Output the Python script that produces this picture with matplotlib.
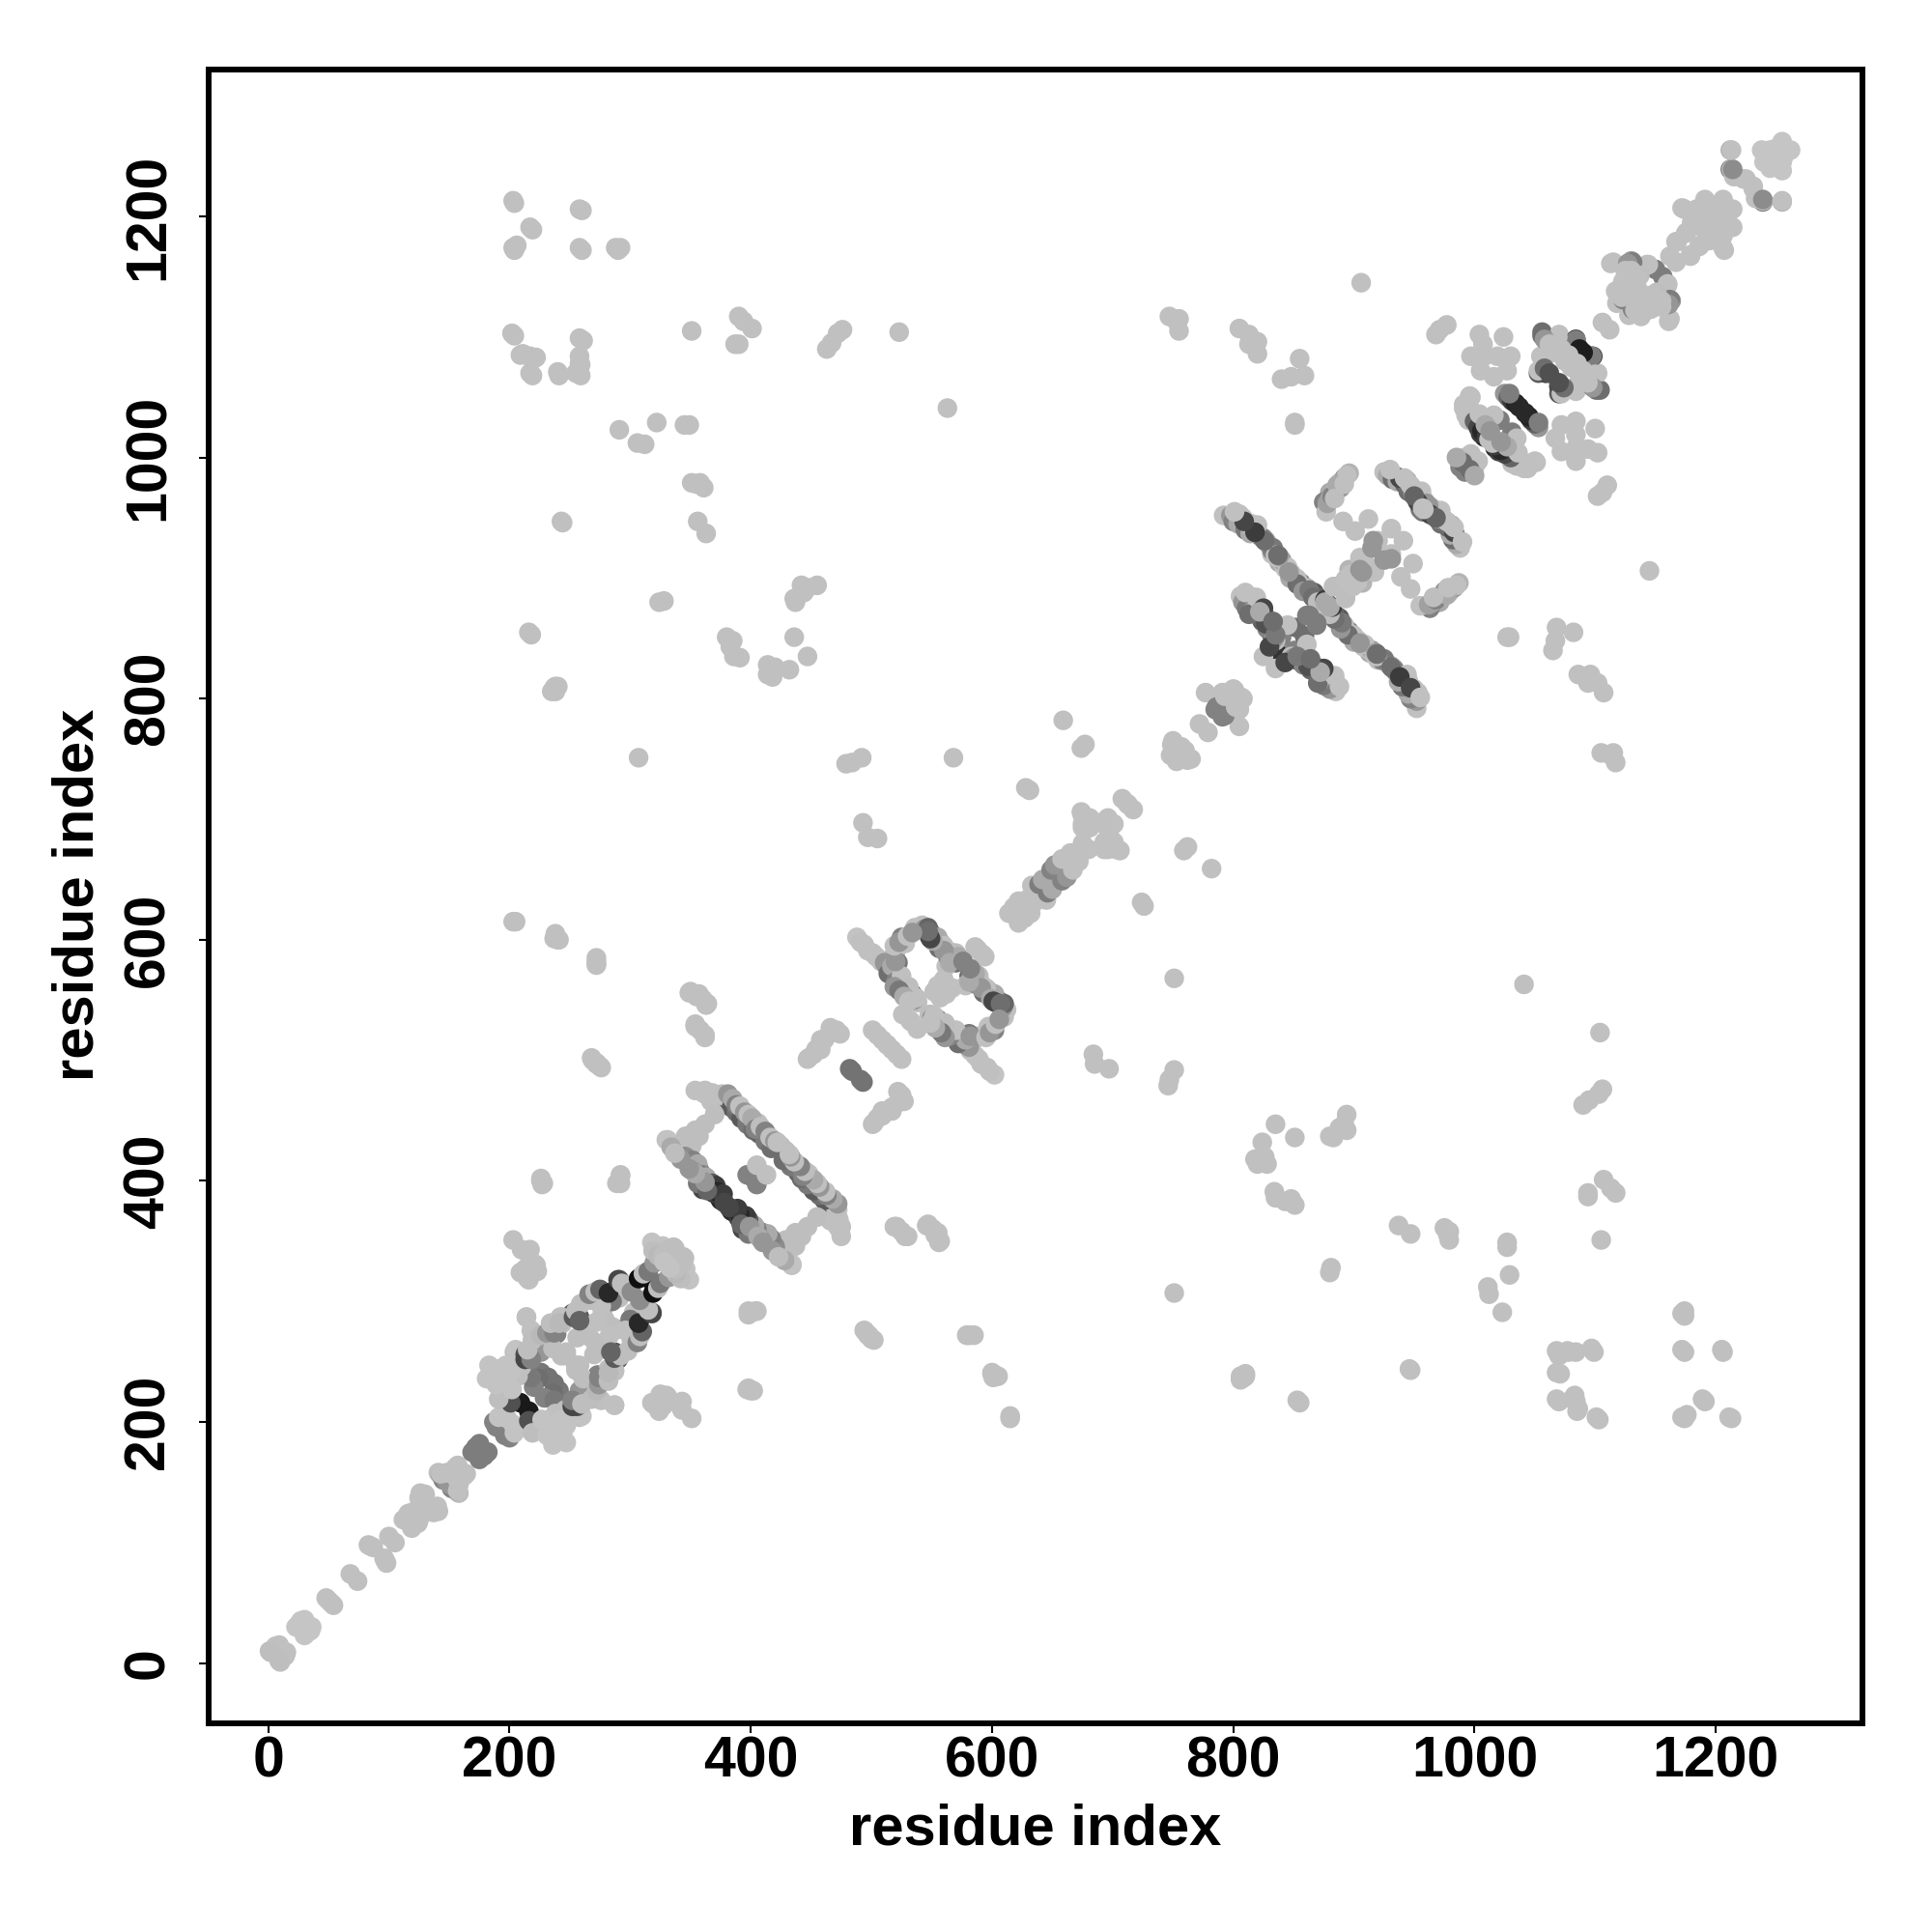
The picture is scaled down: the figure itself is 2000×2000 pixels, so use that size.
import matplotlib
matplotlib.use("Agg")
import matplotlib.pyplot as plt

# contacts as (residue i, residue j, grey level); each is drawn at (i, j) and (j, i)
diag_low = [(1,10,190),(9,15,192),(6,14,192),(2,9,190),(23,30,197),(30,36,197),(25,32,197),(27,35,197),
    (48,54,192),(50,52,192),(68,74,192),(85,97,192),(83,98,192),(87,96,192),(100,105,192),
    (112,119,192),(119,125,192),(125,137,192),(127,133,192),(130,140,192),(126,141,192),(116,124,192),
    (141,158,190),(143,156,150),(145,152,130),(148,151,150),(155,162,192),(156,160,192),(152,157,192),
    (143,157,192),(157,164,192),(148,158,192),
    (175,182,125),(169,175,125),(172,179,125),(175,181,125)]

dense_a = [(189,196,130),(187,200,130),(191,204,195),(198,203,195),(209,216,25),(201,216,80),(191,219,190),
    (202,227,195),(181,236,195),(189,244,195),(197,247,195),(205,260,195),(202,243,195),(189,231,195),
    (183,247,195),(195,236,195),(214,287,192),(218,276,192),(213,256,80),(213,252,70),(218,252,130),
    (215,260,190),(219,268,190),(226,272,185),(231,274,150),(237,274,130),(234,282,190),(242,287,192),
    (241,282,185),(253,287,90),(255,292,190),(259,298,190),(258,284,100),(266,306,130),(271,308,190),
    (275,310,100),(282,307,40),(290,318,70),(293,315,190),(301,308,140),(307,319,15),(313,320,15),
    (311,323,190),(315,325,120),(320,332,150),(318,349,195),(327,346,195),(319,342,190),(323,338,185),
    (327,338,190),(337,344,190),(331,343,190),(336,339,190),(336,345,190),(328,333,195)]

dense_b = [(291,318,100),(287,309,20),(263,274,190),(266,271,190),(277,290,190),(279,285,190),(274,307,190),
    (268,301,190),(258,287,90),(252,290,90),(239,273,130),(244,282,190),(243,287,190),(234,266,120),
    (226,258,150),(216,250,70),(212,258,90),(219,274,190),(214,287,190),(226,241,120),(232,237,115),
    (224,236,110),(220,229,130),(218,237,120),(247,258,190),(247,255,190),(236,261,190),(243,255,190),
    (196,218,190),(202,226,192),(204,258,190),(207,238,192),(210,246,192),(256,270,190),(272,283,192),
    (291,303,190),(300,312,192),(285,300,120),(276,296,192)]

blob_side = [(203,351,192),(210,343,192),(217,343,192),(221,331,192),(209,324,192),(215,319,192),(213,327,192),
    (216,318,192),(223,325,192),(222,330,192),(215,340,192)]

ring_a = [(354,475,192),(362,475,192),(368,473,192),(376,472,192),(378,471,190),(380,468,110),(383,465,80),
    (386,463,70),(389,460,90),(392,456,120),(396,452,60),(400,449,120),(405,447,195),(410,441,100),
    (414,437,110),(418,431,105),(422,428,100),(389,457,60),(395,452,110),(383,464,110),(379,470,195),
    (406,448,195),(415,437,190),(425,429,190),(359,474,192),(362,472,192),(367,466,192)]

ring_a_extra = [(384,461,90),(388,457,110),(392,452,90),(397,447,120),(402,442,110),(407,439,100),(412,433,120),(417,427,110),
    (381,472,150),(385,468,170),(388,463,130),(391,462,192),(395,457,150),(398,455,192),(401,452,170),(404,443,130),
    (408,445,190),(412,441,130),(416,436,192),(420,433,150),(422,432,192)]

ring_b = [(330,434,192),(338,423,150),(350,415,130),(357,410,140),(365,397,50),(374,386,20),(375,384,40),
    (367,394,30),(359,405,130),(351,413,110),(340,424,190),(331,434,195),(343,431,190),(340,426,190),
    (346,437,190),(354,442,190),(362,447,190),(370,455,190),(357,437,190),(351,429,190),(345,420,120),
    (361,402,90),(369,390,60),(397,405,130),(400,404,130),(405,413,192)]

ring_b_extra = [(360,393,70),(356,398,120),(334,428,170),(341,420,150),(346,420,140),(352,417,130),(356,414,170),(352,408,150),
    (360,405,130),(363,403,170),(368,398,90),(371,396,60),(372,391,40),(377,389,60),(378,382,70),(364,392,100),
    (362,399,150),(354,406,170),(349,410,150),(342,418,150),(337,423,190)]

loop_mid = [(357,555,192),(350,557,192),(364,547,192),(354,529,192),(362,519,192),(448,502,192),(458,517,192),
    (466,527,192),(474,522,192),(454,509,192),(501,525,192),(505,521,192),(509,517,192),(513,513,192),
    (482,493,115),(484,491,115),(447,501,192),(458,509,192),(461,517,192),(471,525,192),(452,505,192),(465,522,192),
    (362,520,192),(354,528,192),(546,363,192)]

loop_b = [(488,602,195),(494,596,192),(501,589,192),(508,582,192),(513,578,120),(517,572,90),(521,569,100),
    (524,565,150),(527,563,110),(530,558,192),(534,555,110),(538,548,192),(530,554,120),(525,562,100),
    (522,573,190),(542,612,192),(549,606,75),(553,600,100),(558,597,190),(565,590,190),(570,581,110),
    (554,598,60),(545,608,190),(570,589,190),(525,602,130),(520,589,190),(528,597,192),(536,610,192),
    (522,581,120),(517,585,190),(552,557,192),(560,567,192),(555,562,192),(586,594,192),(588,592,192),
    (532,533,192),(526,538,192),(528,562,130),(533,551,190),(538,549,190),(562,578,192)]

loop_b_extra = [(491,598,192),(497,591,192),(504,586,192),(511,581,150),(514,572,110),(517,578,170),(520,565,130),(525,570,192),
    (528,558,120),(531,561,190),(535,550,150),(537,552,192),(519,561,150),(523,558,120),(527,553,170),(531,549,192),
    (544,609,150),(547,610,100),(551,603,60),(555,602,170),(556,593,110),(560,595,192),(563,587,130),(568,585,192),
    (572,586,170),(560,591,150),(548,603,80),(551,599,170),(549,601,70),(565,581,170),(576,582,130),(547,607,110),
    (520,582,150),(519,595,192),(523,598,150),(530,603,192),(534,606,150)]

diag_mid = [(614,622,192),(618,627,192),(622,632,192),(630,634,192),(633,645,192),(639,646,125),(642,650,170),
    (649,658,130),(652,662,150),(658,667,192),(665,672,192),(675,680,192),(675,693,192),(674,706,192),(681,693,192),
    (696,701,192),(675,696,192),(681,701,192),(688,697,192),(675,703,192),(708,717,192),(712,713,192),
    (749,762,192),(753,760,192),(757,760,192),(748,753,192),(750,765,192),(772,779,192),(777,805,192),
    (791,805,192),(800,808,192),(801,807,192),(785,791,130),(786,793,130),(793,802,192)]

cross_c = [(792,952,192),(798,952,150),(803,950,110),(806,946,120),(808,944,140),(812,942,192),(816,940,110),
    (819,937,120),(823,934,170),(829,928,192),(832,920,192),(838,913,170),(843,908,192),(848,904,192),(852,900,192),
    (856,896,130),(861,892,190),(867,888,90),(870,884,100),(873,879,80),(860,891,192),(853,899,192),(841,912,192),
    (832,923,130),(821,936,110),(813,944,100),(805,953,192)]

cross_c_extra = [(800,947,130),(804,945,170),(810,940,120),(814,937,170),(818,941,192),(825,933,120),(827,931,170),(833,925,120),
    (835,919,192),(840,915,150),(845,909,192),(847,900,170),(853,895,110),(858,889,150),(863,890,120),(866,884,110),
    (870,880,190),(876,882,60),(878,878,90),(875,874,192),(880,876,170),(836,917,192),(808,950,192),(811,946,192),
    (820,944,192),(815,945,192),(846,905,150),(838,918,160),(826,931,110),(818,938,60),(809,947,70),(801,955,192),(837,919,110)]

cross_d = [(806,885,192),(812,884,130),(816,878,170),(819,872,110),(823,868,100),(827,864,192),(832,858,120),
    (836,852,170),(835,841,50),(832,853,70),(829,859,110),(821,869,60),(813,877,110),(816,884,192),(807,884,192),
    (840,851,130),(852,859,110),(845,861,192),(825,835,192),(863,869,125),(861,869,125),(835,848,192)]

cross_d_extra = [(808,880,150),(811,875,120),(815,872,150),(820,878,192),(824,864,100),(828,858,130),(833,862,192),(838,860,192),
    (826,869,110),(827,862,80),(834,850,150),(830,843,70),(835,853,120),(813,870,110),(823,875,150),(819,884,192),
    (810,888,192),(825,875,70),(822,872,170),(833,864,110)]

strip_e = [(896,987,180),(888,979,192),(880,971,170),(875,963,130),(877,955,192),(891,947,192),(901,939,192),
    (912,949,192),(920,931,192),(931,941,192),(883,893,192),(885,893,190),(896,907,180),(893,899,192),
    (897,903,192),(905,917,192),(908,916,192),(905,907,150),(915,925,150),(916,931,150),(884,970,150),(892,983,150),
    (885,973,192),(880,965,192),(878,962,160),(882,968,130),(889,975,150),(894,985,192),(886,977,170),(884,966,190),(892,978,192)]

strip_f = [(925,988,192),(931,986,185),(936,984,130),(940,982,110),(944,978,192),(949,974,70),(952,972,110),
    (952,968,70),(945,976,100),(936,984,192),(955,957,120),(958,965,192),(948,970,150),
    (928,985,170),(932,982,110),(936,980,170),(942,978,100),(945,972,110),(949,970,140),(938,983,70),(944,981,170),
    (952,965,110),(956,960,192),(947,977,192),(956,972,192),(960,962,150),(953,963,70),(930,990,192),(942,983,192),
    (950,968,100),(958,957,192)]

domain_g = [(1004,1102,192),(1024,1100,192),(1007,1094,192),(997,1084,192),(1008,1084,192),(1019,1084,192),
    (1030,1084,192),(1005,1072,192),(1016,1067,192),(1027,1072,192),(996,1051,192),(991,1044,192),(993,1035,192),
    (1001,1029,80),(1008,1017,40),(1005,1020,60),(1005,1024,100),(1011,1019,192),(1003,1029,192),(995,1031,192),
    (991,1041,192),(997,1050,192),(987,999,130),(992,1000,192),(988,992,130),(997,1003,192),(990,996,110),(985,1000,170),
    (1025,1053,150),(1028,1050,100),(1031,1047,60),(1034,1045,35),(1037,1042,40),(1029,1053,125),(1021,1031,125),(1016,1035,192),
    (1056,1104,110),(1070,1102,192),(1055,1084,192),(1084,1098,60),(1084,1097,170),(1097,1084,125),(1090,1087,30),
    (1053,1070,90),(1059,1070,120),(1070,1059,70),(1072,1053,192),(1072,1085,192),(1080,1075,192),(1087,1064,192),
    (1100,1069,192),(1101,1056,110),
    (995,1045,192),(1000,1030,100),(1003,1025,70),(1006,1022,40),(1010,1017,60),(1012,1015,192),(1004,1036,192),
    (1009,1027,170),(1013,1022,150),(1058,1098,150),(1062,1094,192),(1066,1092,192),(1058,1074,110),(1062,1070,80),
    (1072,1090,192),(1078,1085,192)]

tail_h = [(1106,1112,192),(1113,1161,192),(1119,1130,130),(1128,1118,192),(1150,1156,125),(1130,1163,150),(1143,1160,192),
    (1144,1160,192),(1131,1162,125),(1115,1162,192),(1131,1142,192),(1120,1130,192),(1123,1131,130),(1131,1144,192),
    (1122,1142,130),(1127,1161,150),(1137,1151,190),(1125,1155,192),(1162,1167,192),(1168,1179,192),(1167,1179,192),
    (1175,1186,192),(1176,1187,192),(1172,1207,192),(1191,1214,192),(1206,1214,192),(1191,1212,192),(1174,1206,192),
    (1184,1206,192),(1198,1206,192),(1198,1203,192),(1187,1192,192),(1180,1195,192),(1190,1197,192),(1212,1239,130),
    (1213,1239,192),(1215,1233,192),(1223,1231,192),(1225,1231,192),(1214,1239,140),(1212,1255,180),(1213,1255,192),
    (1238,1255,197),(1255,1262,197),(1240,1245,197),(1247,1251,197),(1245,1255,197),(1249,1256,197),(1241,1250,197),
    (1122,1133,192),(1127,1145,192),(1125,1150,192),(1135,1148,192),(1126,1136,192),(1117,1138,192),(1130,1155,192),
    (1123,1146,192),(1135,1140,192),(1120,1135,192)]

far_i = [203,217,258,203,206,258,288,292,202,258,209,217,222,217,240,258,258,255,258,351,390,394,401,387,390,
    463,467,472,476,523,563,291,306,312,322,345,349,351,355,361,358,356,363,243,216,436,447,432,414,414,416,420,418,
    380,385,386,391,383,324,328,436,442,447,455,444,437,237,240,235,307,479,484,492,568,493,497,505,628,631,659,674,677,
    203,238,241,237,272,272,349,355,360,363,354,362,358,269,275,272,226,228,291,292,289,398,405,400,397,402,
    494,497,502,580,585,600,605,615,806,810,853,946,1068,1077,1097,1068,1068,1081,1086,1101,1172,1172,1205,1172,1189,1211,
    805,813,820,813,820,855,840,848,859,851,851,906,971,977,968,747,755,1105,1113]
far_j = [1213,1191,1206,1174,1176,1174,1174,1174,1103,1099,1085,1084,1083,1070,1071,1084,1070,1070,1078,1105,1117,1113,1107,1094,1094,
    1090,1095,1103,1106,1104,1041,1023,1012,1011,1029,1027,1027,979,978,975,979,947,937,947,855,851,835,824,828,820,824,826,818,
    851,848,835,834,843,880,881,883,894,892,894,888,880,809,810,806,751,746,747,751,751,697,685,684,726,724,782,759,762,
    615,603,600,601,582,579,556,553,551,546,530,521,525,500,495,498,400,398,400,404,398,292,292,291,227,226,
    276,272,268,272,272,240,238,205,238,238,218,244,259,259,261,241,219,219,211,204,290,260,260,204,219,204,
    1107,1102,1096,1094,1086,1082,1065,1067,1068,1029,1027,1145,1106,1110,1102,1117,1115,755,753]
FAR_GREY = 192

regions = [diag_low, dense_b, dense_a, blob_side, ring_a, ring_a_extra, ring_b, ring_b_extra, loop_mid, loop_b,
           loop_b_extra, diag_mid, cross_c, cross_c_extra, cross_d, cross_d_extra, strip_e, strip_f, domain_g, tail_h]

tick_values = [0, 200, 400, 600, 800, 1000, 1200]

xs, ys, cs = [], [], []
for region in regions:
    for i, j, g in region:
        v = g / 255
        xs += [i, j]; ys += [j, i]; cs += [(v, v, v), (v, v, v)]
for i, j in zip(far_i, far_j):
    v = FAR_GREY / 255
    xs += [i, j]; ys += [j, i]; cs += [(v, v, v), (v, v, v)]

FAMILY = ["Liberation Sans", "DejaVu Sans"]
fig = plt.figure(figsize=(20, 20), dpi=100, facecolor="white")
ax = fig.add_axes([216.3/2000, 1-1783.7/2000, (1928.3-216.3)/2000, (1783.7-72)/2000])
ax.scatter(xs, ys, s=215, c=cs, linewidths=0, zorder=2)
ax.set_xlim(-49.2, 1321.8)
ax.set_ylim(-49.7, 1321.8)
for s in ax.spines.values():
    s.set_linewidth(4.3)
ax.set_xticks(tick_values)
ax.set_yticks(tick_values)
ax.tick_params(axis="x", length=7, width=1.5, pad=2)
ax.tick_params(axis="y", length=7, width=1.5, pad=18)
for t in ax.get_xticklabels():
    t.set(fontfamily=FAMILY, fontsize=42.5, fontweight="bold")
for t in ax.get_yticklabels():
    t.set(fontfamily=FAMILY, fontsize=42.5, fontweight="bold", rotation=90, va="center")
fig.text(1072/2000, 1-1894/2000, "residue index", ha="center", va="center",
         fontfamily=FAMILY, fontsize=43, fontweight="bold")
fig.text(81/2000, 1-926/2000, "residue index", ha="center", va="center", rotation=90,
         fontfamily=FAMILY, fontsize=43, fontweight="bold")
fig.savefig("out.png", dpi=100)
